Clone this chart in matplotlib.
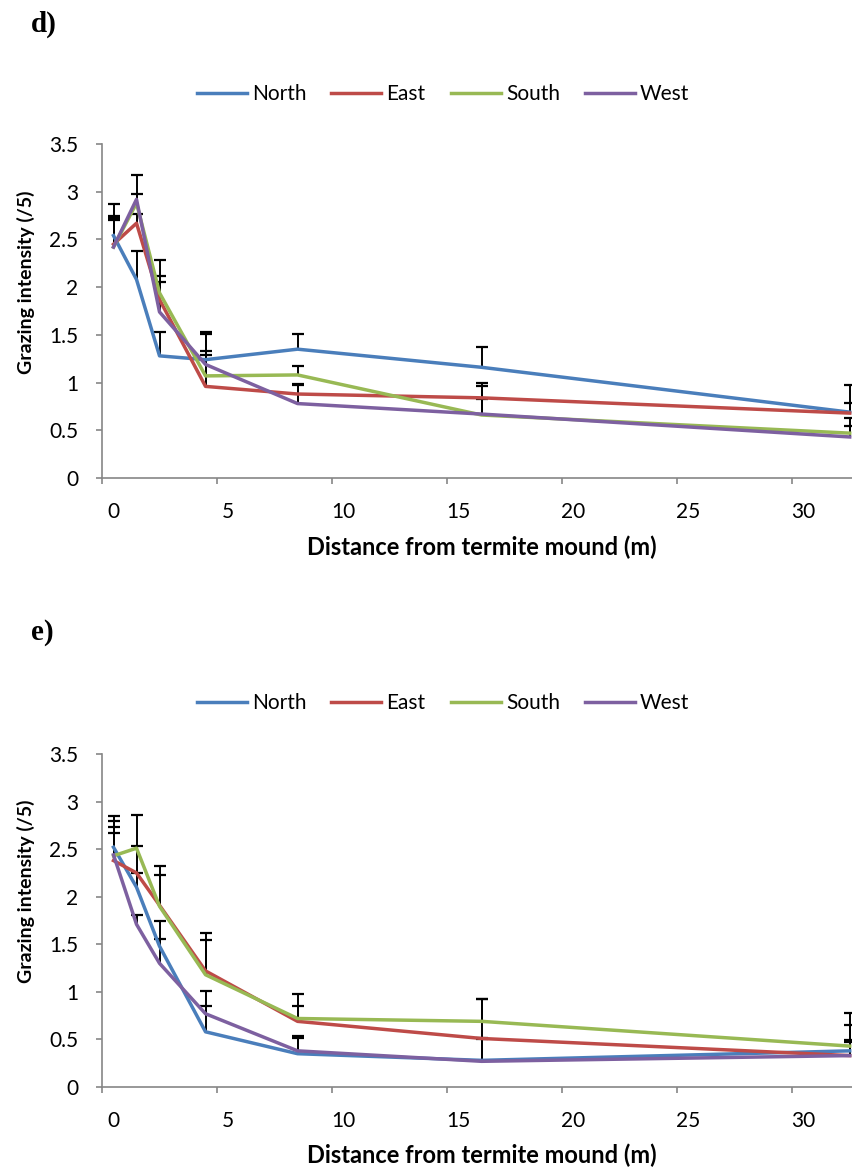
import matplotlib
matplotlib.use("Agg")
import matplotlib.pyplot as plt
import numpy as np
from matplotlib.transforms import ScaledTranslation

plt.rcParams['font.family'] = ['Lato', 'DejaVu Sans']

# distance classes (m)
distance = [0.5, 1.5, 2.5, 4.5, 8.5, 16.5, 32.5]
directions = ["North", "East", "South", "West"]
colors = ["#4A7EBB", "#BE4B48", "#98B954", "#7D60A0"]

# panel d) means and top of error bars
d_north = [2.54, 2.08, 1.28, 1.24, 1.35, 1.16, 0.69]
d_east = [2.45, 2.67, 1.87, 0.96, 0.88, 0.84, 0.68]
d_south = [2.42, 2.88, 1.94, 1.07, 1.08, 0.66, 0.47]
d_west = [2.42, 2.92, 1.74, 1.19, 0.78, 0.67, 0.43]
d_north_top = [2.87, 2.38, 1.53, 1.53, 1.51, 1.37, 0.97]
d_east_top = [2.75, 2.77, 2.12, 1.29, 0.99, 1.00, 0.79]
d_south_top = [2.70, 2.98, 2.28, 1.33, 1.17, 0.96, 0.63]
d_west_top = [2.72, 3.18, 2.05, 1.51, 0.97, 0.83, 0.55]

# panel e)
e_north = [2.52, 2.10, 1.48, 0.58, 0.35, 0.28, 0.38]
e_east = [2.38, 2.25, 1.91, 1.22, 0.69, 0.51, 0.33]
e_south = [2.43, 2.51, 1.90, 1.18, 0.72, 0.69, 0.43]
e_west = [2.44, 1.71, 1.30, 0.77, 0.38, 0.27, 0.33]
e_north_top = [2.67, 2.25, 1.74, 0.85, 0.52, 0.52, 0.65]
e_east_top = [2.80, 2.53, 2.23, 1.62, 0.85, 0.93, 0.49]
e_south_top = [2.85, 2.86, 2.32, 1.55, 0.98, 0.93, 0.78]
e_west_top = [2.73, 1.81, 1.56, 1.01, 0.54, 0.50, 0.47]

yticks = [0, 0.5, 1, 1.5, 2, 2.5, 3, 3.5]
ytick_labels = ["0", "0.5", "1", "1.5", "2", "2.5", "3", "3.5"]
xticks = [0, 5, 10, 15, 20, 25, 30]

grey = "#868686"

fig = plt.figure(figsize=(8.52, 11.69), dpi=100)

panels = [
    ("d)", [d_north, d_east, d_south, d_west], [d_north_top, d_east_top, d_south_top, d_west_top], 144, 478, 24, 94),
    ("e)", [e_north, e_east, e_south, e_west], [e_north_top, e_east_top, e_south_top, e_west_top], 754, 1087, 633, 703),
]

W, H = 852, 1169
for letter, means, tops, ytop, ybot, yletter, ylegend in panels:
    ax = fig.add_axes([102 / W, 1 - ybot / H, 1 - 102 / W, (ybot - ytop) / H])
    lines = []
    for m, t, c, name in zip(means, tops, colors, directions):
        # plus-only error bars like excel
        ax.vlines(distance, m, t, color='black', lw=1.4, zorder=2)
        ax.plot(distance, t, ls='none', marker='_', ms=8, mew=1.6, color='black', zorder=2)
        ln, = ax.plot(distance, m, color=c, lw=2.5, label=name, zorder=3)
        lines.append(ln)

    ax.set_xlim(0, 32.6)
    ax.set_ylim(0, 3.5)
    ax.set_yticks(yticks)
    ax.set_yticklabels(ytick_labels)
    ax.set_xticks(xticks)
    for s in ['top', 'right']:
        ax.spines[s].set_visible(False)
    for s in ['left', 'bottom']:
        ax.spines[s].set_color(grey)
        ax.spines[s].set_linewidth(1.2)
    ax.tick_params(axis='both', direction='out', color=grey, length=4, width=1.2,
                   labelsize=15, labelcolor='black')
    ax.tick_params(axis='y', pad=13)
    ax.tick_params(axis='x', pad=13)
    # excel puts the x labels a bit right of the ticks
    for lab in ax.get_xticklabels():
        lab.set_transform(lab.get_transform() + ScaledTranslation(0.11, 0, fig.dpi_scale_trans))

    ax.set_xlabel("Distance from termite mound (m)", fontsize=17, fontweight='bold', va='center')
    ax.xaxis.set_label_coords((481.5 - 102) / 750, -(547 - 478) / 334)
    ax.set_ylabel("Grazing intensity (/5)", fontsize=14, fontweight='bold', va='center')
    ax.yaxis.set_label_coords(-(102 - 26) / 750, (478 - 282) / 334)

    fig.text(31 / W, 1 - yletter / H, letter, fontsize=21, fontweight='bold',
             family='Liberation Serif', va='center', ha='left')

    fig.legend(handles=lines, loc='center', bbox_to_anchor=(443 / W, 1 - ylegend / H),
               ncol=4, frameon=False, fontsize=15, handlelength=2.4,
               handletextpad=0.25, columnspacing=1.2)

plt.savefig("out.png", dpi=100)
